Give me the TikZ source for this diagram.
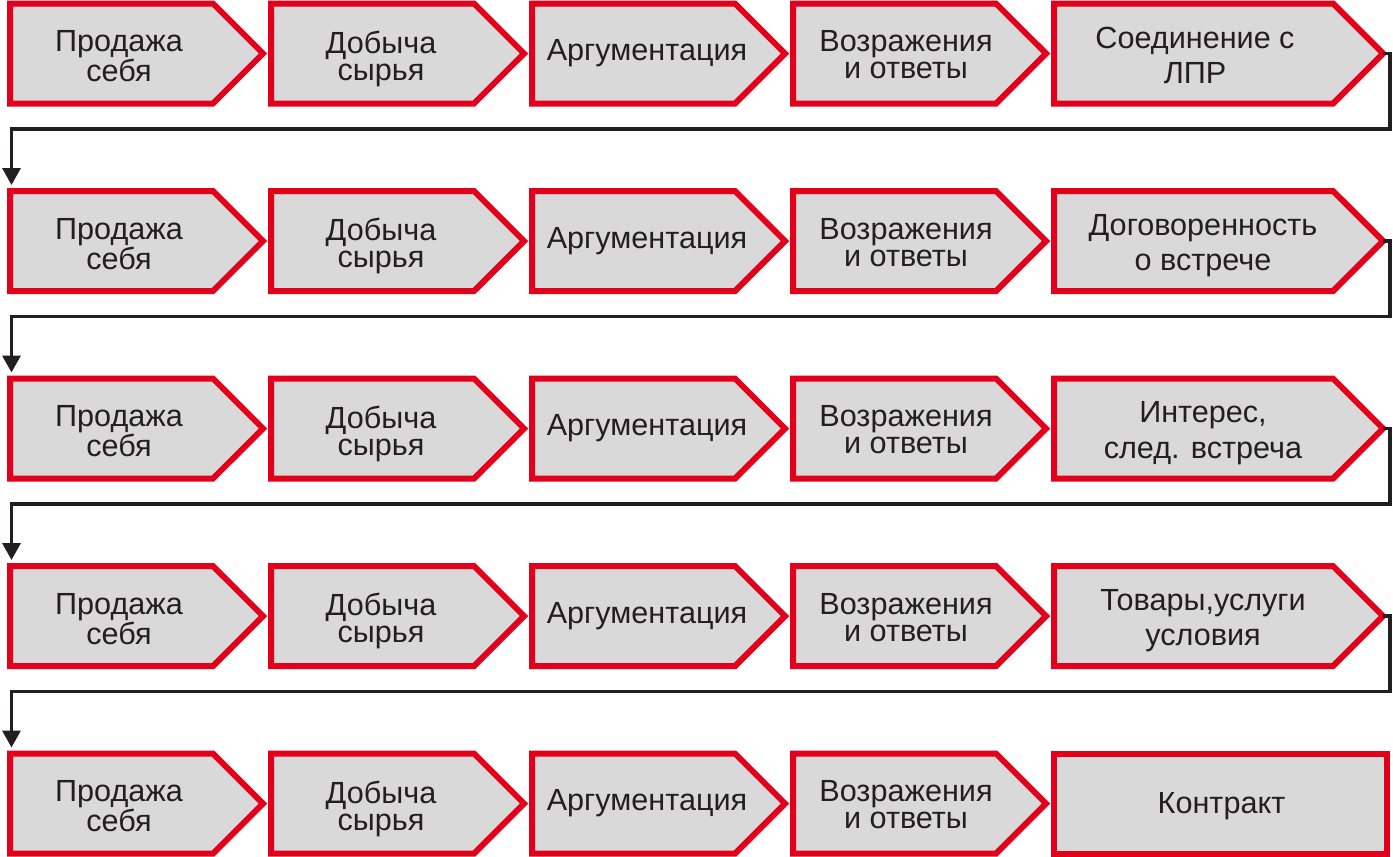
\documentclass[tikz,border=0pt]{standalone}
\usepackage{fontspec}
\setmainfont{Liberation Sans}
\usetikzlibrary{shapes.symbols,arrows.meta}

\definecolor{stepred}{RGB}{226,0,26}
\definecolor{stepgray}{RGB}{217,217,217}
\definecolor{flowblack}{RGB}{35,31,32}

\tikzset{
  stepbox/.style={signal, signal to=east, signal pointer angle=90, draw=stepred, fill=stepgray,
    line width=6pt, minimum width=253pt, minimum height=100pt, inner sep=0pt, outer sep=0pt,
    anchor=west},
  goalbox/.style={stepbox, minimum width=329pt},
  lastbox/.style={rectangle, draw=stepred, fill=stepgray, line width=6pt,
    minimum width=333pt, minimum height=100pt, inner sep=0pt, outer sep=0pt, anchor=west},
  steptext/.style={anchor=north, align=center, inner sep=0pt, text=flowblack,
    font=\fontsize{30.6}{27}\selectfont},
  goaltext/.style={steptext, font=\fontsize{30.6}{35.5}\selectfont},
  flow/.style={draw=flowblack, line width=3.5pt, -{Triangle[width=18pt,length=17pt]}},
}

\begin{document}
\begin{tikzpicture}[x=1pt,y=-1pt]
\useasboundingbox (0,0) rectangle (1393,857);

\foreach \r in {1,...,5}{
  \foreach \c/\tx/\ty/\txt in {1/119/27/{Продажа\\себя}, 2/381/27/{Добыча\\сырья},
      3/647/36/{Аргументация}, 4/906/27/{Возражения\\и ответы}}{
    \node[stepbox] (b\r\c) at ({10+261*(\c-1)},{53.5+187.5*(\r-1)}) {};
    \node[steptext] (t\r\c) at ({\tx},{3.5+\ty+187.5*(\r-1)}) {\txt};
  }
}

\foreach \r/\tx/\txt in {1/1195/{Соединение с\\ЛПР}, 2/1203/{Договоренность\\о встрече},
    3/1203/{Интерес,\\след. встреча}, 4/1203/{Товары,услуги\\условия}}{
  \node[goalbox] (b\r5) at ({1054},{53.5+187.5*(\r-1)}) {};
  \node[goaltext] (t\r5) at ({\tx},{26.5+187.5*(\r-1)}) {\txt};
}
\node[lastbox] (b55) at (1054,803.5) {};
\node[steptext] (t55) at (1221.5,792.5) {Контракт};

\foreach \r/\n in {1/2,2/3,3/4,4/5}{
  \coordinate (out\r) at ({1390},{53.5+187.5*(\r-1)});
  \coordinate (in\n) at ({11.5},{185+187.5*(\n-2)});
  \draw[flow] (b\r5.east) -- (out\r) -- ++(0,75.5) -| (in\n);
}
\end{tikzpicture}
\end{document}
